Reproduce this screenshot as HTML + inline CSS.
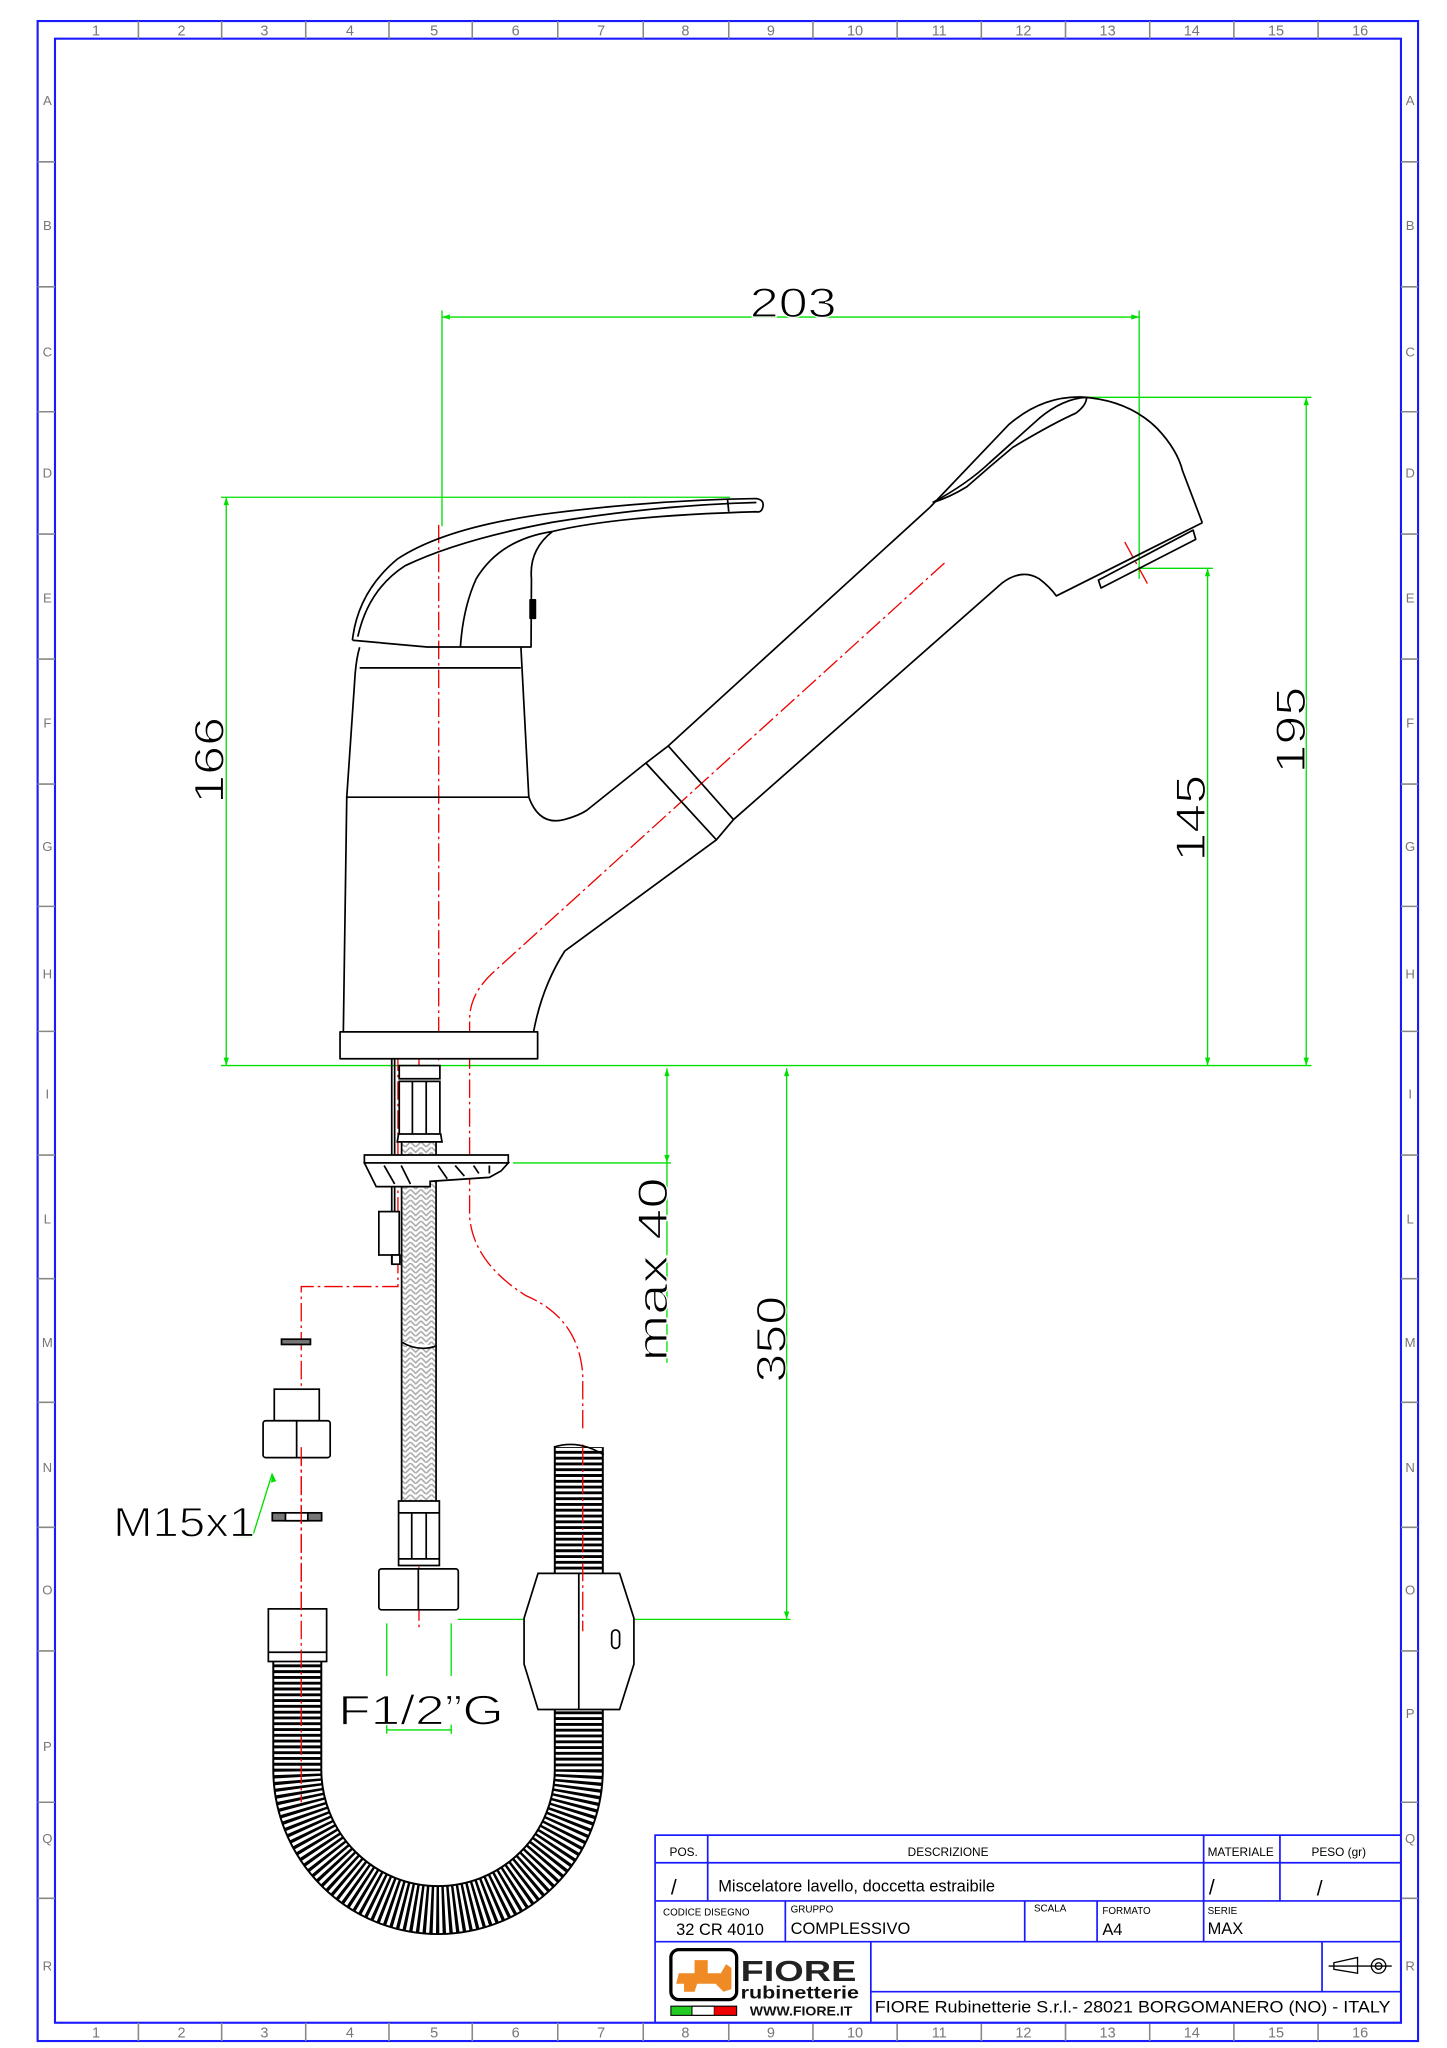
<!DOCTYPE html>
<html><head><meta charset="utf-8"><style>
html,body{margin:0;padding:0;background:#fff;}
svg{display:block}
text{font-family:"Liberation Sans",sans-serif;}
</style></head><body>
<svg width="1447" height="2048" viewBox="0 0 1100 1556.8" preserveAspectRatio="none" xmlns="http://www.w3.org/2000/svg">
<defs>
<pattern id="braid" width="8" height="8" patternUnits="userSpaceOnUse">
<rect width="8" height="8" fill="#fff"/>
<path d="M0 0 L4 4 L8 0 M0 4 L4 8 L8 4" stroke="#aaa" stroke-width="1.2" fill="none"/>
</pattern>
</defs>
<rect width="1100" height="1556.8" fill="#fff"/>
<g fill="none" stroke="#1a1aff" stroke-width="1.6">
<rect x="28.6" y="16" width="1049.4" height="1535.5"/>
<rect x="41.8" y="29.4" width="1023.2" height="1508.2"/>
</g>
<g stroke="#888" stroke-width="1.2">
<line x1="105.2" y1="16" x2="105.2" y2="29.4"/><line x1="168.5" y1="16" x2="168.5" y2="29.4"/><line x1="232.4" y1="16" x2="232.4" y2="29.4"/><line x1="295.7" y1="16" x2="295.7" y2="29.4"/><line x1="359" y1="16" x2="359" y2="29.4"/><line x1="424" y1="16" x2="424" y2="29.4"/><line x1="489" y1="16" x2="489" y2="29.4"/><line x1="554" y1="16" x2="554" y2="29.4"/><line x1="618" y1="16" x2="618" y2="29.4"/><line x1="682" y1="16" x2="682" y2="29.4"/><line x1="746" y1="16" x2="746" y2="29.4"/><line x1="810" y1="16" x2="810" y2="29.4"/><line x1="874" y1="16" x2="874" y2="29.4"/><line x1="938" y1="16" x2="938" y2="29.4"/><line x1="1002" y1="16" x2="1002" y2="29.4"/>
<line x1="105.2" y1="1537.6" x2="105.2" y2="1551.5"/><line x1="168.5" y1="1537.6" x2="168.5" y2="1551.5"/><line x1="232.4" y1="1537.6" x2="232.4" y2="1551.5"/><line x1="295.7" y1="1537.6" x2="295.7" y2="1551.5"/><line x1="359" y1="1537.6" x2="359" y2="1551.5"/><line x1="424" y1="1537.6" x2="424" y2="1551.5"/><line x1="489" y1="1537.6" x2="489" y2="1551.5"/><line x1="554" y1="1537.6" x2="554" y2="1551.5"/><line x1="618" y1="1537.6" x2="618" y2="1551.5"/><line x1="682" y1="1537.6" x2="682" y2="1551.5"/><line x1="746" y1="1537.6" x2="746" y2="1551.5"/><line x1="810" y1="1537.6" x2="810" y2="1551.5"/><line x1="874" y1="1537.6" x2="874" y2="1551.5"/><line x1="938" y1="1537.6" x2="938" y2="1551.5"/><line x1="1002" y1="1537.6" x2="1002" y2="1551.5"/>
</g>
<g stroke="#888" stroke-width="1.2">
<path d="M28.6 123H41.8M28.6 218H41.8M28.6 313H41.8M28.6 406H41.8M28.6 501H41.8M28.6 596H41.8M28.6 689H41.8M28.6 784H41.8M28.6 878H41.8M28.6 972H41.8M28.6 1066H41.8M28.6 1161H41.8M28.6 1255H41.8M28.6 1370H41.8M28.6 1443H41.8"/>
<path d="M1065 123H1078M1065 218H1078M1065 313H1078M1065 406H1078M1065 501H1078M1065 596H1078M1065 689H1078M1065 784H1078M1065 878H1078M1065 972H1078M1065 1066H1078M1065 1161H1078M1065 1255H1078M1065 1370H1078M1065 1443H1078"/>
</g>
<g fill="#777" font-size="11" text-anchor="middle">
<text x="73" y="27">1</text><text x="138" y="27">2</text><text x="201" y="27">3</text><text x="266" y="27">4</text><text x="330" y="27">5</text><text x="392" y="27">6</text><text x="457" y="27">7</text><text x="521" y="27">8</text><text x="586" y="27">9</text><text x="650" y="27">10</text><text x="714" y="27">11</text><text x="778" y="27">12</text><text x="842" y="27">13</text><text x="906" y="27">14</text><text x="970" y="27">15</text><text x="1034" y="27">16</text>
<text x="73" y="1549">1</text><text x="138" y="1549">2</text><text x="201" y="1549">3</text><text x="266" y="1549">4</text><text x="330" y="1549">5</text><text x="392" y="1549">6</text><text x="457" y="1549">7</text><text x="521" y="1549">8</text><text x="586" y="1549">9</text><text x="650" y="1549">10</text><text x="714" y="1549">11</text><text x="778" y="1549">12</text><text x="842" y="1549">13</text><text x="906" y="1549">14</text><text x="970" y="1549">15</text><text x="1034" y="1549">16</text>
</g>
<g fill="#777" font-size="10" text-anchor="middle">
<text x="36" y="80">A</text><text x="36" y="175">B</text><text x="36" y="271">C</text><text x="36" y="363">D</text><text x="36" y="458">E</text><text x="36" y="553">F</text><text x="36" y="647">G</text><text x="36" y="744">H</text><text x="36" y="835">I</text><text x="36" y="930">L</text><text x="36" y="1024">M</text><text x="36" y="1119">N</text><text x="36" y="1212">O</text><text x="36" y="1331">P</text><text x="36" y="1401">Q</text><text x="36" y="1498">R</text>
<text x="1072" y="80">A</text><text x="1072" y="175">B</text><text x="1072" y="271">C</text><text x="1072" y="363">D</text><text x="1072" y="458">E</text><text x="1072" y="553">F</text><text x="1072" y="647">G</text><text x="1072" y="744">H</text><text x="1072" y="835">I</text><text x="1072" y="930">L</text><text x="1072" y="1024">M</text><text x="1072" y="1119">N</text><text x="1072" y="1212">O</text><text x="1072" y="1306">P</text><text x="1072" y="1401">Q</text><text x="1072" y="1498">R</text>
</g>

<g stroke="#00e000" stroke-width="1" fill="none">
<line x1="336" y1="241" x2="866" y2="241"/>
<line x1="336" y1="236" x2="336" y2="400"/>
<line x1="866" y1="236" x2="866" y2="440"/>
<line x1="168" y1="378" x2="555" y2="378"/>
<line x1="172" y1="378" x2="172" y2="810"/>
<line x1="822" y1="302" x2="997" y2="302"/>
<line x1="993" y1="302" x2="993" y2="810"/>
<line x1="866" y1="432" x2="922" y2="432"/>
<line x1="918" y1="432" x2="918" y2="810"/>
<line x1="168" y1="810" x2="997" y2="810"/>
<line x1="507" y1="812" x2="507" y2="1036"/>
<line x1="390" y1="884" x2="510" y2="884"/>
<line x1="598" y1="812" x2="598" y2="1231"/>
<line x1="348" y1="1231" x2="601" y2="1231"/>
<line x1="294" y1="1234" x2="294" y2="1274"/>
<line x1="343" y1="1234" x2="343" y2="1274"/>
<line x1="294" y1="1311" x2="294" y2="1318"/>
<line x1="343" y1="1311" x2="343" y2="1318"/>
<line x1="294" y1="1315" x2="343" y2="1315"/>
<polyline points="180,1168 192,1168 207,1120"/>
</g>
<g fill="#00e000">
<path d="M336 241l6-2v4zM866 241l-6-2v4z"/>
<path d="M172 378l-2 6h4zM172 810l-2-6h4z"/>
<path d="M993 302l-2 6h4zM993 810l-2-6h4z"/>
<path d="M918 432l-2 6h4zM918 810l-2-6h4z"/>
<path d="M507 812l-2 6h4zM507 884l-2-6h4z"/>
<path d="M598 812l-2 6h4zM598 1231l-2-6h4z"/>
<path d="M207 1120l-1 7l4-1z"/>
</g>
<g fill="#000" font-size="32" text-anchor="middle" stroke="#fff" stroke-width="0.9">
<text x="603" y="241" textLength="66" lengthAdjust="spacingAndGlyphs">203</text>
<text transform="translate(170,578) rotate(-90)" textLength="66" lengthAdjust="spacingAndGlyphs">166</text>
<text transform="translate(992,555) rotate(-90)" textLength="66" lengthAdjust="spacingAndGlyphs">195</text>
<text transform="translate(916,622) rotate(-90)" textLength="66" lengthAdjust="spacingAndGlyphs">145</text>
<text transform="translate(507,965) rotate(-90)" textLength="140" lengthAdjust="spacingAndGlyphs">max 40</text>
<text transform="translate(597,1018) rotate(-90)" textLength="66" lengthAdjust="spacingAndGlyphs">350</text>
<text x="140" y="1168" textLength="108" lengthAdjust="spacingAndGlyphs">M15x1</text>
<text x="320" y="1311" textLength="126" lengthAdjust="spacingAndGlyphs">F1/2”G</text>
</g>

<g stroke="#e00" stroke-width="1" fill="none" stroke-dasharray="14 3 2 3">
<line x1="333.5" y1="399" x2="333.5" y2="806"/>
<path d="M718 428 L374 740 Q357 756 357 775 L357 925 Q360 960 400 985 Q440 1002 443 1045 L443 1240"/>
<line x1="318.5" y1="800" x2="318.5" y2="1240"/>
<path d="M302.5 800 L302.5 978 L229 978 L229 1370"/>
<line x1="855" y1="412" x2="873" y2="445"/>
</g>

<g stroke="#000" stroke-width="1.3" fill="none" stroke-linejoin="round">
<rect x="258.5" y="784.4" width="150.2" height="20.4" fill="#fff"/>
<path d="M261 784.4 L263.6 606 L270 512 Q271 500 273.4 492 M263.6 606 L401.9 606 M273.4 507.7 L395.9 507.7 M396 492 L402 606"/>
<path d="M402 606 Q410 628 429 623 Q440 620 446 616 L491 580"/>
<path d="M491 580 L508 567 L557.6 623 L544.6 638.4 Z M491 580 L544.6 638.4"/>
<path d="M508 567 L707 385.6"/>
<path d="M557.6 623 L762 443 Q777 432 790 440 Q798 446 803 453 L914 397.4"/>
<path d="M707 385.6 L766.7 322.9 Q792 301 822 301.8 Q858 304 880 326 Q895 342 899 358 L914 397.4"/>
<path d="M709 382 Q722 378 735 370 Q752 355 770 340 Q800 322 818 314 Q826 308 826 302 Q808 303 790 318 Q770 336 752 352 Q735 368 709 382"/>
<path d="M837 447 L835 441 L907 403 L909 410 Z"/>
<path d="M544.6 638.4 L429.3 723 Q412 750 405.6 784.4"/>
<path d="M267.9 486.7 Q272 450 302 425 Q340 400 420 390 Q500 380 575 379 Q581 380 580 385 Q579 390 575 389 Q470 392 420 404 Q380 410 362 440 Q352 462 350 491.8 M267.9 486.7 L324.7 491.8 L403.7 491.8 L404 440 Q402 418 420 404"/>
<path d="M272 484 Q280 448 308 430 Q350 410 420 397 Q500 384 575 382"/>
<path d="M553 379 L554 389"/>
<rect x="403" y="456" width="4" height="14" fill="#000"/>
</g>

<g stroke="#000" stroke-width="1.3" fill="#fff">
<line x1="297.8" y1="805" x2="297.8" y2="961" fill="none"/>
<line x1="300" y1="805" x2="300" y2="961" fill="none"/>
<rect x="305.3" y="867" width="26.2" height="290" fill="url(#braid)"/>
<path d="M303.5 810 L334.4 810 L334.4 820 L303.5 820 Z M303.5 822 L334.4 822 L334.4 862 L303.5 862 Z M303 862 L335 862 L336 868 L302 868 Z"/>
<path d="M313.5 822 V862 M324 822 V862" fill="none"/>
<path d="M277 878 L386.4 878 L386.4 884 L277 884 Z"/>
<path d="M277 884 L286 902 L327 902 L327 898 L372 895 L381 890 L386.4 884 Z"/>
<path d="M292 886 L300 900 M305 886 L312 900 M333 886 L340 896 M346 886 L353 894 M360 886 L364 892 M372 886 V892" fill="none"/>
<rect x="288" y="921" width="15.5" height="33"/>
<rect x="298" y="954" width="6" height="7"/>
<path d="M305 1020 Q318 1028 332 1023" fill="#fff" stroke-width="1.3"/>
<path d="M303 1141 L334 1141 L334 1190 L303 1190 Z"/>
<path d="M313 1150 V1185 M324 1150 V1185 M303 1150 H334 M303 1185 H334" fill="none"/>
<rect x="288" y="1192.6" width="60.4" height="31.1" rx="2"/>
<line x1="318" y1="1192.6" x2="318" y2="1223.7"/>
<rect x="214" y="1018" width="22" height="4" fill="#777"/>
<rect x="208.5" y="1056" width="34.2" height="24"/>
<rect x="200" y="1080" width="51" height="28" rx="2"/>
<line x1="225.5" y1="1080" x2="225.5" y2="1108"/>
<rect x="207" y="1150" width="37.5" height="6" fill="#777"/>
<rect x="217" y="1150" width="17" height="6" fill="#fff"/>
</g>

<path d="M226 1263 L226 1345 A107 107 0 0 0 440 1345 L440 1100" fill="none" stroke="#000" stroke-width="38"/>
<path d="M226 1263 L226 1345 A107 107 0 0 0 440 1345 L440 1100" fill="none" stroke="#fff" stroke-width="35" stroke-dasharray="2.2 2.2"/>
<rect x="419" y="1088" width="42" height="10" fill="#fff"/>
<path d="M421 1100 Q440 1094 459 1106" fill="none" stroke="#000" stroke-width="1.3"/>
<g stroke="#000" stroke-width="1.3" fill="#fff">
<rect x="204" y="1223" width="44.3" height="40"/>
<line x1="204" y1="1256" x2="248.3" y2="1256"/>
<path d="M409 1196 L471 1196 L481.9 1230 L481.9 1265 L471 1299.5 L409 1299.5 L398.4 1265 L398.4 1230 Z"/>
<line x1="440" y1="1196" x2="440" y2="1299.5"/>
<rect x="465" y="1239" width="6" height="14" rx="3"/>
</g>
<g stroke="#e00" stroke-width="1" fill="none" stroke-dasharray="14 3 2 3">
<line x1="229" y1="1100" x2="229" y2="1370"/>
<line x1="443" y1="1100" x2="443" y2="1240"/>
</g>

<g stroke="#1a1aff" stroke-width="1.3" fill="none">
<rect x="498" y="1395" width="567" height="142.6"/>
<line x1="498" y1="1416" x2="1065" y2="1416"/>
<line x1="498" y1="1445" x2="1065" y2="1445"/>
<line x1="498" y1="1476" x2="1065" y2="1476"/>
<line x1="662" y1="1514" x2="1065" y2="1514"/>
<line x1="538" y1="1395" x2="538" y2="1445"/>
<line x1="915" y1="1395" x2="915" y2="1476"/>
<line x1="973" y1="1395" x2="973" y2="1445"/>
<line x1="597" y1="1445" x2="597" y2="1476"/>
<line x1="779" y1="1445" x2="779" y2="1476"/>
<line x1="834" y1="1445" x2="834" y2="1476"/>
<line x1="662" y1="1476" x2="662" y2="1537.6"/>
<line x1="1005" y1="1476" x2="1005" y2="1514"/>
</g>
<g fill="#000" font-size="9">
<text x="509" y="1411">POS.</text>
<text x="690" y="1411">DESCRIZIONE</text>
<text x="918" y="1411">MATERIALE</text>
<text x="997" y="1411">PESO (gr)</text>
<text x="504" y="1456" font-size="7.5">CODICE DISEGNO</text>
<text x="601" y="1454" font-size="7.5">GRUPPO</text>
<text x="786" y="1453" font-size="7.5">SCALA</text>
<text x="838" y="1455" font-size="7.5">FORMATO</text>
<text x="918" y="1455" font-size="7.5">SERIE</text>
</g>
<g fill="#000" font-size="12.5">
<text x="510" y="1440" font-size="16">/</text>
<text x="546" y="1438">Miscelatore lavello, doccetta estraibile</text>
<text x="919" y="1440" font-size="16">/</text>
<text x="1001" y="1441" font-size="16">/</text>
<text x="514" y="1471">32 CR 4010</text>
<text x="601" y="1470">COMPLESSIVO</text>
<text x="838" y="1471">A4</text>
<text x="918" y="1470">MAX</text>
<text x="665" y="1530" textLength="392" lengthAdjust="spacingAndGlyphs">FIORE Rubinetterie S.r.l.- 28021 BORGOMANERO (NO) - ITALY</text>
</g>
<g stroke="#000" stroke-width="1" fill="none">
<path d="M1014 1492 L1032 1488 L1032 1500 L1014 1497 Z"/>
<line x1="1010" y1="1494.5" x2="1058" y2="1494.5"/>
<circle cx="1048" cy="1494.5" r="5.5"/><circle cx="1048" cy="1494.5" r="2.5"/>
</g>
<rect x="510" y="1482" width="50" height="38" rx="6" fill="#fff" stroke="#000" stroke-width="2.5"/>
<path d="M516 1500 L528 1500 L528 1490 L538 1490 L538 1500 L548 1500 L552 1493 L556 1496 L556 1512 L550 1514 L544 1508 L530 1508 L528 1514 L520 1514 L520 1508 L514 1508 Z" fill="#f08a24"/>
<text x="563" y="1506" font-size="22" font-weight="bold" fill="#222" textLength="88" lengthAdjust="spacingAndGlyphs">FIORE</text>
<text x="563" y="1519" font-size="13" font-weight="bold" fill="#111" textLength="90" lengthAdjust="spacingAndGlyphs">rubinetterie</text>
<text x="570" y="1532" font-size="10" font-weight="bold" fill="#111" textLength="78" lengthAdjust="spacingAndGlyphs">WWW.FIORE.IT</text>
<rect x="510" y="1525" width="16" height="7" fill="#2c2"/><rect x="526" y="1525" width="17" height="7" fill="#fff" stroke="#000" stroke-width="0.8"/><rect x="543" y="1525" width="17" height="7" fill="#e00"/>
<rect x="510" y="1525" width="50" height="7" fill="none" stroke="#000" stroke-width="0.8"/>
</svg>
</body></html>
